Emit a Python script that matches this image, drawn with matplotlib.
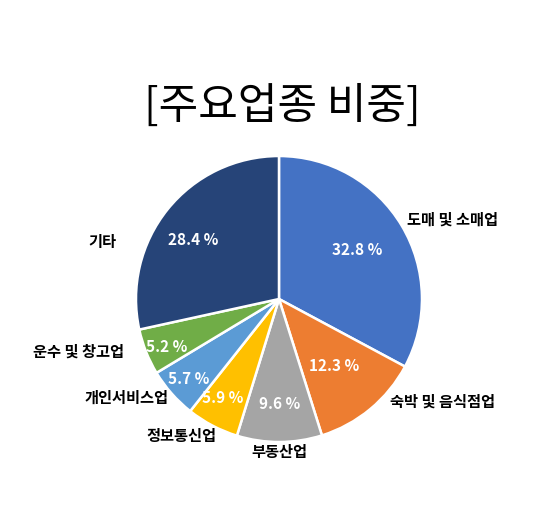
import numpy as np
import matplotlib.pyplot as plt

plt.rcParams['font.family'] = ['Noto Sans CJK KR', 'DejaVu Sans']

# data
categories = ['도매 및 소매업', '숙박 및 음식점업', '부동산업', '정보통신업',
              '개인서비스업', '운수 및 창고업', '기타']
shares = [32.8, 12.3, 9.6, 5.9, 5.7, 5.2, 28.4]
colors = ['#4472C4', '#ED7D31', '#A5A5A5', '#FFC000', '#5B9BD5', '#70AD47', '#264478']

# label placement (radius, angle offset in degrees from slice middle)
label_r = [1.34, 1.35, 1.06, 1.17, 1.27, 1.45, 1.30]
label_off = [-6, 18.5, 0, -8, -8.7, -7.2, 20.5]
pct_r = [0.65, 0.60, 0.73, 0.79, 0.84, 0.85, 0.73]
pct_off = [2, 0, 0, -2, 0, 1, 4]

fig = plt.figure(figsize=(5.52, 5.06), dpi=100)
ax = fig.add_axes([0.1168, -0.0168, 0.7772, 0.8478])

wedges, _ = ax.pie(shares, colors=colors, startangle=90, counterclock=False,
                   wedgeprops=dict(edgecolor='white', linewidth=1.8))
ax.set_xlim(-1.5, 1.5)
ax.set_ylim(-1.5, 1.5)
ax.set_aspect('equal')
ax.axis('off')

for i, w in enumerate(wedges):
    mid = (w.theta1 + w.theta2) / 2
    a = np.deg2rad(mid + label_off[i])
    ax.text(label_r[i] * np.cos(a), label_r[i] * np.sin(a), categories[i],
            ha='center', va='center', fontsize=11, fontweight='bold', color='black')
    b = np.deg2rad(mid + pct_off[i])
    ax.text(pct_r[i] * np.cos(b), pct_r[i] * np.sin(b), f'{shares[i]} %',
            ha='center', va='center', fontsize=11, fontweight='bold', color='white')

fig.text(282 / 552, 1 - 107 / 506, '[주요업종 비중]', ha='center', va='center',
         fontsize=31, color='black')

fig.savefig('out.png', dpi=100)
